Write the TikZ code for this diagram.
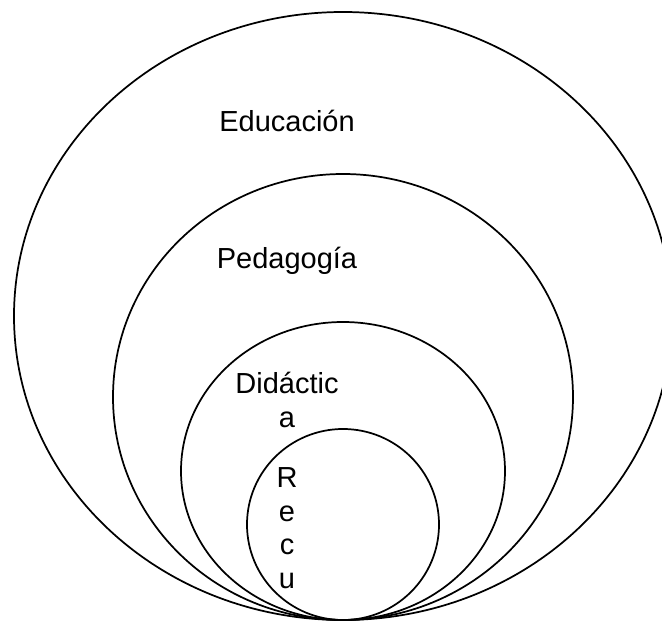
\documentclass[tikz,border=0pt]{standalone}
\usepackage{fontspec}
\setmainfont{Liberation Sans}
\begin{document}
\begin{tikzpicture}[x=0.75pt,y=-0.75pt,
    ring/.style={draw=black,line width=1.3pt},
    label/.style={inner sep=0pt,anchor=base,align=center,
      font=\fontsize{21.75}{25.1}\selectfont}]
    \useasboundingbox (0,0) rectangle (662,621);
    \clip (0,0) rectangle (662,621);
    \draw[ring] (343,316) ellipse (329 and 304);
    \draw[ring] (343,397) ellipse (230 and 223);
    \draw[ring] (343,471) ellipse (162 and 149);
    \draw[ring] (343,524.5) ellipse (96 and 95.5);
    \node[label] (educacion) at (287,132) {Educación};
    \node[label] (pedagogia) at (287,268) {Pedagogía};
    \node[label] (didactica) at (287,427) {Didáctic\\a};
    \node[label] (recu) at (287,588) {R\\e\\c\\u};
  \end{tikzpicture}
\end{document}
